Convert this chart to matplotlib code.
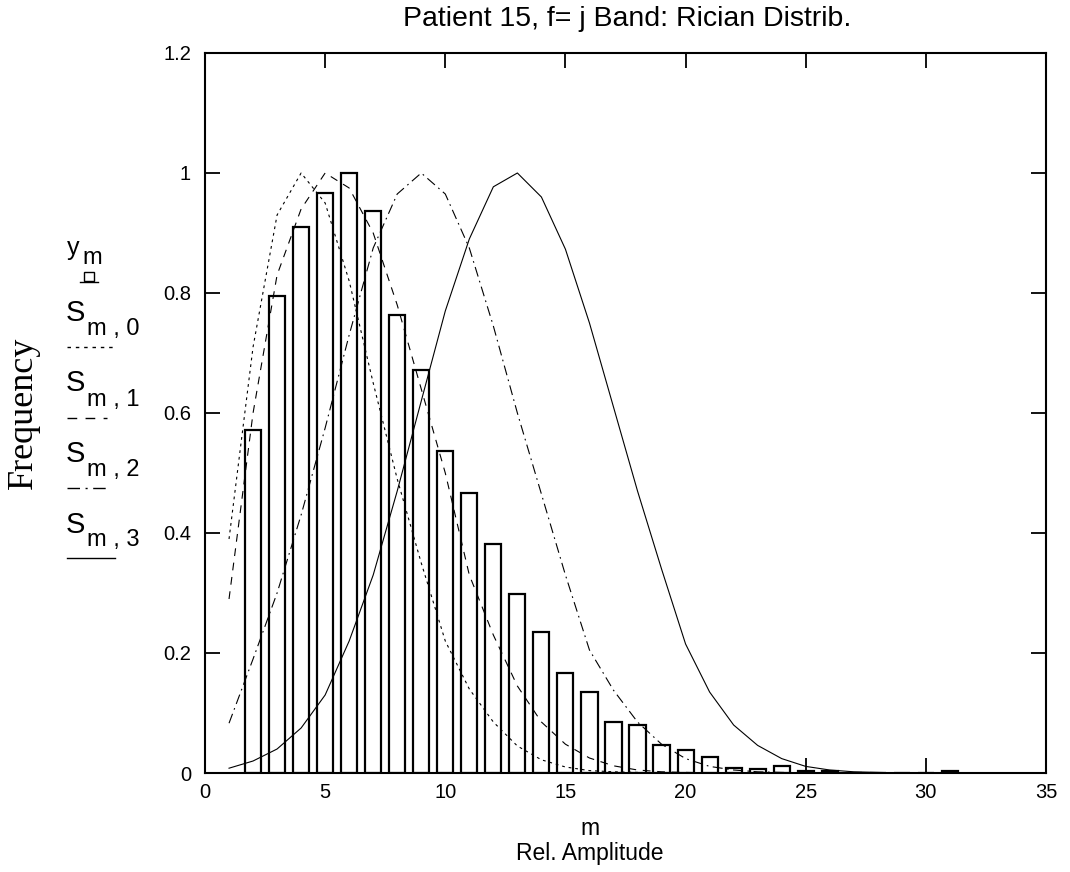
"""
Rician distribution fit against the relative amplitude histogram
"""

# Third Party Libraries
import matplotlib
matplotlib.use('Agg')
import matplotlib.pyplot as plt
from matplotlib.lines import Line2D
from matplotlib.patches import Rectangle

# Histogram bins (relative amplitude m) and normalised counts y_m
bin_m = [2, 3, 4, 5, 6, 7, 8, 9, 10, 11, 12, 13, 14, 15, 16, 17, 18, 19,
         20, 21, 22, 23, 24, 25, 26, 27, 28, 29, 30, 31]
y_m = [0.571, 0.795, 0.910, 0.966, 1.0, 0.937, 0.763, 0.672, 0.536, 0.467,
       0.382, 0.299, 0.235, 0.166, 0.135, 0.085, 0.080, 0.046, 0.038, 0.027,
       0.009, 0.006, 0.012, 0.003, 0.003, 0.0, 0.0, 0.0, 0.0, 0.003]

# Fitted curves evaluated at m = 1..31
curve_m = list(range(1, 32))
s_m0 = [0.39, 0.71, 0.93, 1.0, 0.95, 0.82, 0.65, 0.49, 0.35, 0.22, 0.14,
        0.085, 0.045, 0.022, 0.010, 0.004, 0.002, 0.001, 0, 0, 0, 0, 0, 0,
        0, 0, 0, 0, 0, 0, 0]
s_m1 = [0.29, 0.60, 0.83, 0.94, 1.0, 0.975, 0.90, 0.78, 0.64, 0.50, 0.33,
        0.23, 0.145, 0.085, 0.048, 0.025, 0.012, 0.005, 0.002, 0.001, 0, 0,
        0, 0, 0, 0, 0, 0, 0, 0, 0]
s_m2 = [0.083, 0.19, 0.30, 0.43, 0.575, 0.73, 0.875, 0.965, 1.0, 0.965,
        0.875, 0.745, 0.60, 0.465, 0.33, 0.205, 0.138, 0.085, 0.048, 0.024,
        0.011, 0.005, 0.002, 0.001, 0, 0, 0, 0, 0, 0, 0]
s_m3 = [0.008, 0.02, 0.04, 0.075, 0.13, 0.22, 0.33, 0.47, 0.62, 0.77, 0.89,
        0.977, 1.0, 0.96, 0.873, 0.75, 0.61, 0.47, 0.34, 0.215, 0.135, 0.08,
        0.046, 0.024, 0.011, 0.005, 0.002, 0.001, 0, 0, 0]

x_ticks = [0, 5, 10, 15, 20, 25, 30, 35]
y_ticks = [0, 0.2, 0.4, 0.6, 0.8, 1.0, 1.2]
y_tick_labels = ['0', '0.2', '0.4', '0.6', '0.8', '1', '1.2']

# Legend subscripts
legend_subs = ['m , 0', 'm , 1', 'm , 2', 'm , 3']

W, H = 1070, 872

# Line styles for the four fits
styles = [(0, (2.5, 3.5)), (0, (7, 6)), (0, (9, 4, 1.5, 4)), '-']


def fx(px):
    return px / W


def fy(py):
    return 1 - py / H


def main():
    plt.rcParams['font.family'] = ['Liberation Sans', 'DejaVu Sans']

    fig = plt.figure(figsize=(W / 100, H / 100), dpi=100)
    ax = fig.add_axes([fx(205), fy(773), fx(1046) - fx(205), fy(53) - fy(773)])

    # Histogram bars
    ax.bar(bin_m, y_m, width=0.67, facecolor='white', edgecolor='black',
           linewidth=1.6, zorder=2)

    # Fitted curves
    for vals, ls in zip([s_m0, s_m1, s_m2, s_m3], styles):
        ax.plot(curve_m, vals, color='black', linestyle=ls, linewidth=0.8,
                zorder=3)

    ax.set_xlim(0, 35)
    ax.set_ylim(0, 1.2)
    ax.set_xticks(x_ticks)
    ax.set_yticks(y_ticks)
    ax.set_yticklabels(y_tick_labels)
    ax.tick_params(direction='in', length=11, width=1.3, top=True,
                   right=True, labelsize=14.5)
    ax.tick_params(axis='y', pad=10)
    ax.tick_params(axis='x', pad=7)
    for sp in ax.spines.values():
        sp.set_linewidth(1.5)

    fig.text(fx(627), fy(19), 'Patient 15, f= j Band: Rician Distrib.',
             ha='center', va='center', fontsize=20.5)
    fig.text(fx(590), fy(828), 'm', ha='center', va='center', fontsize=16.5)
    fig.text(fx(590), fy(853), 'Rel. Amplitude', ha='center', va='center',
             fontsize=16.5)
    fig.text(fx(23), fy(413), 'Frequency', rotation=90, ha='center',
             va='center', fontsize=26, family=['Liberation Serif'])

    # Hand-made legend on the left
    fig.text(fx(67), fy(248), 'y', fontsize=18, va='center', ha='left')
    fig.text(fx(82), fy(258), 'm', fontsize=17, va='center', ha='left')
    fig.add_artist(Rectangle((fx(84), fy(281)), fx(10), fy(272) - fy(281),
                             facecolor='white', edgecolor='black',
                             linewidth=1.0, transform=fig.transFigure))
    fig.add_artist(Line2D([fx(80), fx(98)], [fy(282), fy(282)],
                          color='black', linewidth=1.0))

    s_y = [313, 383, 454, 525]
    sub_y = [329, 400, 470, 540]
    line_y = [347, 418, 488, 558]
    line_end = [115, 107, 107, 115]
    for sub, sy, by, ly, le, ls in zip(legend_subs, s_y, sub_y, line_y,
                                       line_end, styles):
        fig.text(fx(66), fy(sy), 'S', fontsize=21, va='center', ha='left')
        fig.text(fx(87), fy(by), sub, fontsize=17, va='center', ha='left')
        fig.add_artist(Line2D([fx(67), fx(le)], [fy(ly), fy(ly)],
                              color='black', linestyle=ls, linewidth=1.0))

    fig.savefig('out.png', dpi=100)


# Start program execution at main
if __name__ == '__main__':
    main()
